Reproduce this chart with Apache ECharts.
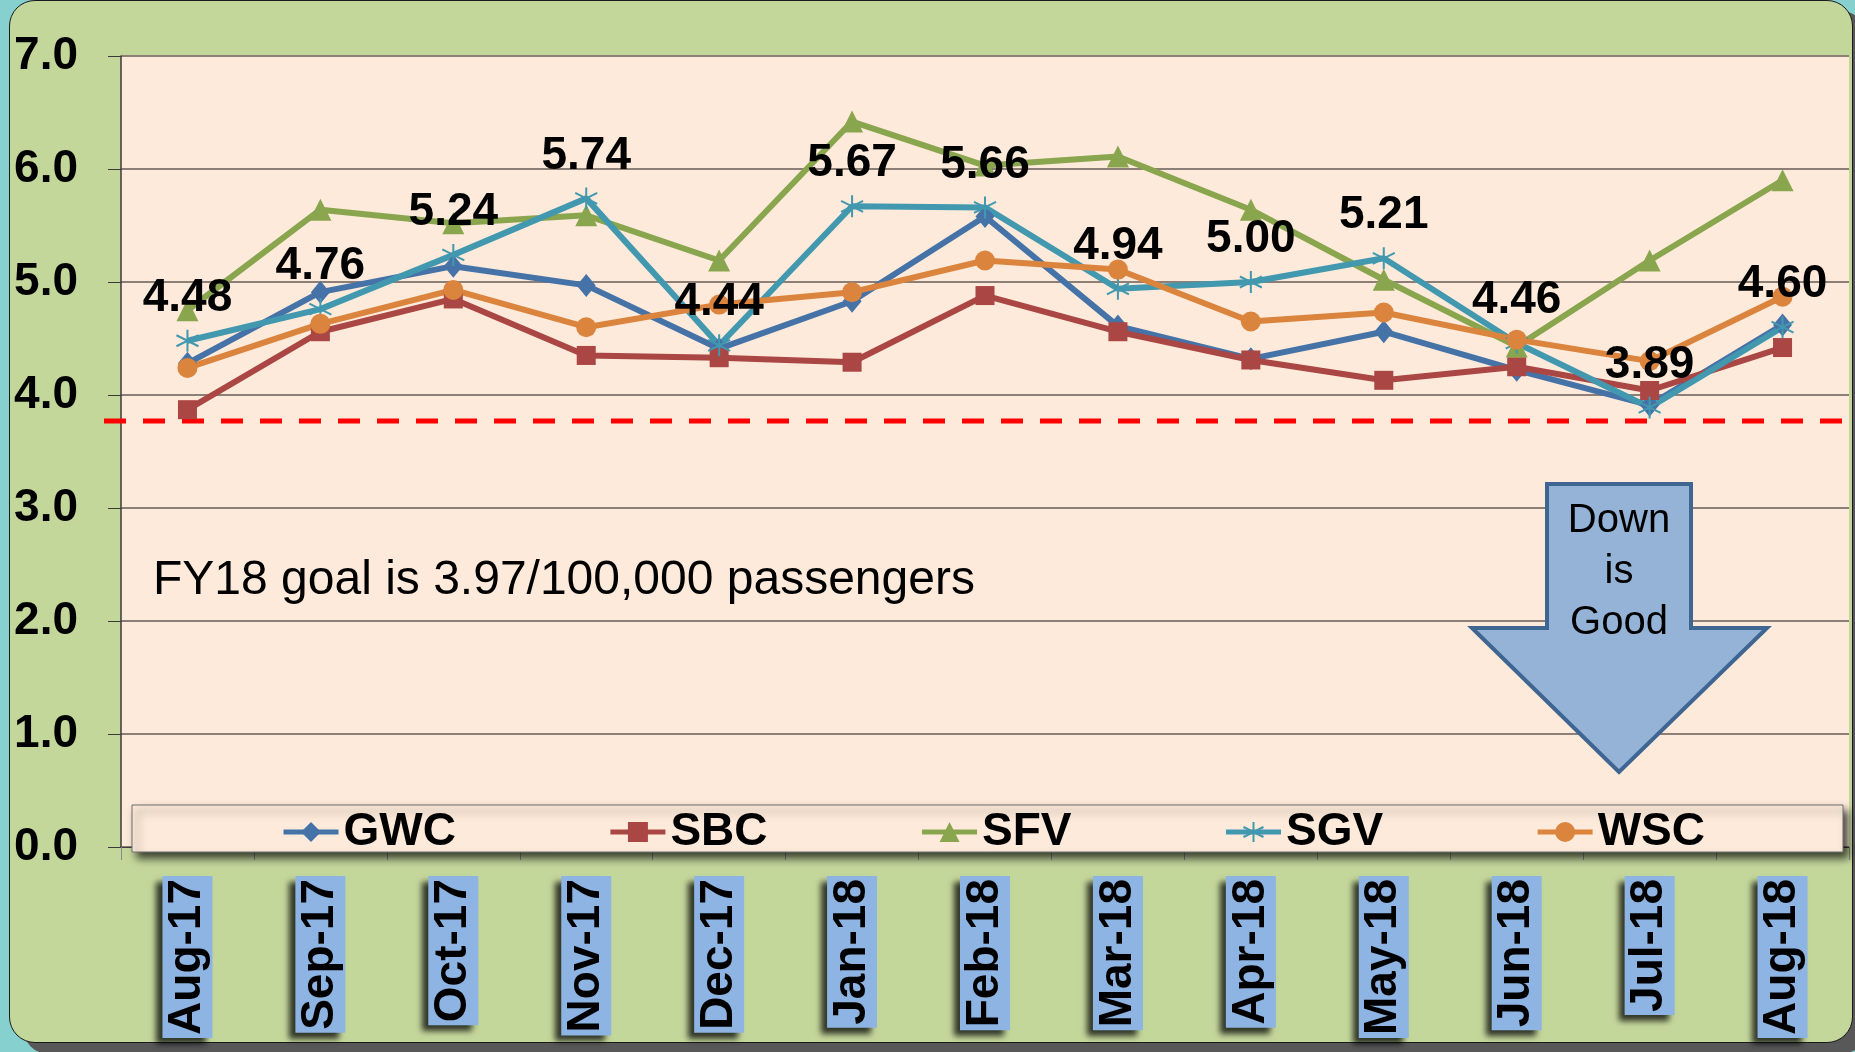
<!DOCTYPE html>
<html>
<head>
<meta charset="utf-8">
<script src="https://cdn.jsdelivr.net/npm/echarts@6.0.0/dist/echarts.min.js"></script>
<style>
  html, body { margin: 0; padding: 0; width: 1855px; height: 1052px; overflow: hidden; background: #86D0D0; }
  #panel { position: absolute; left: 9px; top: 0; width: 1842px; height: 1041px; background: #C4D79B;
           border: 1px solid #1a1a1a; border-radius: 26px; box-shadow: 14px 11px 0 #585858; }
  #main { position: absolute; left: 0; top: 0; width: 1855px; height: 1052px; }
</style>
</head>
<body>
<div id="panel"></div>
<div id="main"></div>
<script>
var FONT = '"Liberation Sans", Arial, sans-serif';

// 数据
var months = ['Aug-17', 'Sep-17', 'Oct-17', 'Nov-17', 'Dec-17', 'Jan-18', 'Feb-18', 'Mar-18', 'Apr-18', 'May-18', 'Jun-18', 'Jul-18', 'Aug-18'];
var gwc = [4.28, 4.91, 5.14, 4.97, 4.41, 4.83, 5.58, 4.61, 4.32, 4.56, 4.22, 3.91, 4.62];
var sbc = [3.87, 4.56, 4.85, 4.35, 4.33, 4.29, 4.88, 4.56, 4.31, 4.13, 4.25, 4.04, 4.42];
var sfv = [4.75, 5.64, 5.52, 5.59, 5.19, 6.42, 6.03, 6.11, 5.64, 5.02, 4.43, 5.19, 5.90];
var sgv = [4.48, 4.76, 5.24, 5.74, 4.44, 5.67, 5.66, 4.94, 5.00, 5.21, 4.46, 3.89, 4.60];
var wsc = [4.24, 4.63, 4.93, 4.60, 4.80, 4.91, 5.19, 5.11, 4.65, 4.73, 4.49, 4.30, 4.87];
var goalLine = 3.77;
var goalText = 'FY18 goal is 3.97/100,000 passengers';
var arrowText = 'Down\nis\nGood';

var myChart = echarts.init(document.getElementById('main'));

function lineSeries(name, data, color, symbol, size) {
    return {
        name: name,
        type: 'line',
        data: data,
        symbol: symbol,
        symbolSize: size,
        lineStyle: { width: 6, color: color },
        itemStyle: { color: color },
        z: 5
    };
}

var asterisk = 'path://M0,-10L0,10M-8.66,-5L8.66,5M-8.66,5L8.66,-5';

var sgvSeries = lineSeries('SGV', sgv, '#4198AF', asterisk, 22);
sgvSeries.itemStyle = { color: 'none', borderColor: '#4198AF', borderWidth: 2 };
sgvSeries.label = {
    show: true,
    position: 'top',
    distance: 6,
    fontSize: 46,
    fontWeight: 'bold',
    fontFamily: FONT,
    color: '#000',
    formatter: function (p) { return p.value.toFixed(2); }
};

option = {
    animation: false,
    backgroundColor: 'transparent',
    grid: {
        left: 121, right: 6, top: 56, bottom: 205,
        show: true, backgroundColor: '#FDEADA', borderWidth: 0
    },
    legend: {
        left: 276, top: 804,
        itemGap: 152, itemWidth: 55, itemHeight: 25,
        lineStyle: { width: 5 },
        textStyle: { fontSize: 46, fontWeight: 'bold', fontFamily: FONT, color: '#000', lineHeight: 46 },
        data: ['GWC', 'SBC', 'SFV', 'SGV', 'WSC'],
        z: 20
    },
    xAxis: {
        type: 'category',
        data: months,
        boundaryGap: true,
        axisLine: { lineStyle: { color: '#404040', width: 1 } },
        axisTick: { show: true, length: 13, lineStyle: { color: '#8a8a8a' } },
        axisLabel: {
            interval: 0,
            rotate: 90,
            margin: 29,
            fontSize: 46,
            fontWeight: 'bold',
            fontFamily: FONT,
            color: '#000',
            backgroundColor: '#8DB4E2',
            padding: [0, 3, 0, 3],
            lineHeight: 50,
            shadowColor: 'rgba(0,0,0,0.75)',
            shadowBlur: 6,
            shadowOffsetX: -6,
            shadowOffsetY: 6
        }
    },
    yAxis: {
        type: 'value',
        min: 0, max: 7, interval: 1,
        axisLine: { show: true, lineStyle: { color: '#3a3a3a', width: 1.5 } },
        axisTick: { show: true, length: 13, lineStyle: { color: '#3a3a3a' } },
        axisLabel: {
            margin: 43,
            fontSize: 46,
            fontWeight: 'bold',
            fontFamily: FONT,
            color: '#000',
            formatter: function (v) { return v.toFixed(1); }
        },
        splitLine: { lineStyle: { color: '#8C7F77', width: 2 } }
    },
    series: [
        lineSeries('GWC', gwc, '#4572A7', 'diamond', [19, 23]),
        lineSeries('SBC', sbc, '#AA4643', 'rect', 19),
        lineSeries('SFV', sfv, '#89A54E', 'triangle', 22),
        sgvSeries,
        lineSeries('WSC', wsc, '#DB843D', 'circle', 20)
    ]
};

myChart.setOption(option);

// 目标线、图例框、箭头
var gy = myChart.convertToPixel({ yAxisIndex: 0 }, goalLine);
myChart.setOption({
    graphic: [
        {
            type: 'rect', z: 10,
            shape: { x: 132, y: 805, width: 1711, height: 47 },
            style: { fill: '#FDEADA', stroke: '#6e6e6e', lineWidth: 1,
                     shadowBlur: 8, shadowOffsetX: 5, shadowOffsetY: 6, shadowColor: 'rgba(0,0,0,0.7)' }
        },
        {
            type: 'line', z: 3,
            shape: { x1: 104, y1: gy, x2: 1850, y2: gy },
            style: { stroke: '#FF0000', lineWidth: 5, lineDash: [22, 17] }
        },
        {
            type: 'text', z: 6,
            style: { text: goalText, x: 153, y: 581, fontSize: 48, fontFamily: FONT,
                     fill: '#000', align: 'left', verticalAlign: 'middle' }
        },
        {
            type: 'polygon', z: 8,
            shape: { points: [[1547, 484], [1691, 484], [1691, 628], [1767, 628], [1619, 772], [1472, 628], [1547, 628]] },
            style: { fill: '#95B3D7', stroke: '#3F6593', lineWidth: 4 }
        },
        {
            type: 'text', z: 9,
            style: { text: arrowText, x: 1619, y: 572, fontSize: 40, lineHeight: 51, fontFamily: FONT,
                     fill: '#000', align: 'center', verticalAlign: 'middle' }
        }
    ]
});
</script>
</body>
</html>
